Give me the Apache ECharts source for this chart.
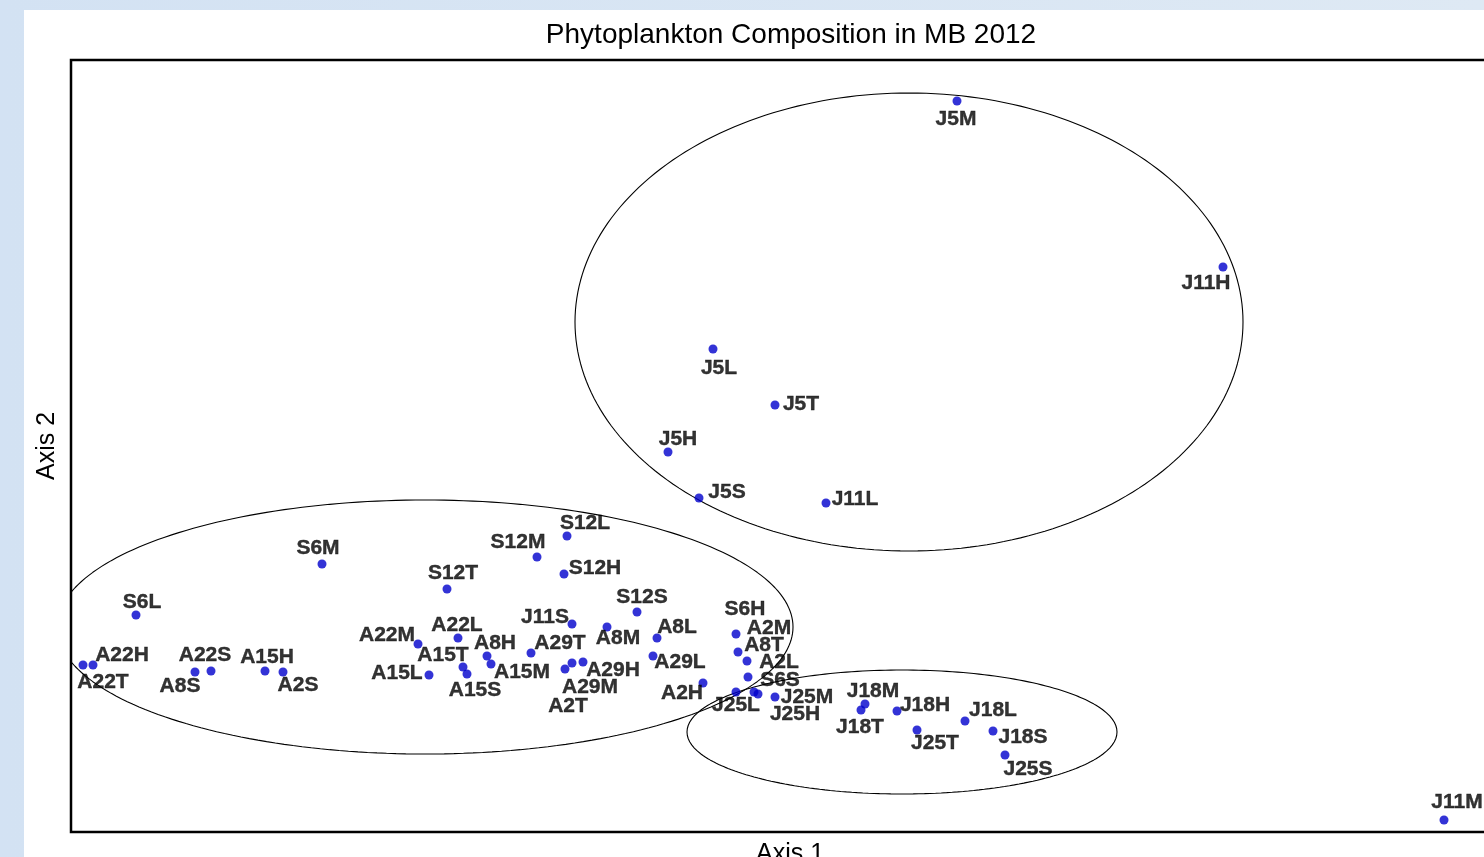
<!DOCTYPE html>
<html>
<head>
<meta charset="utf-8">
<script src="https://cdn.jsdelivr.net/npm/echarts@6/dist/echarts.min.js"></script>
<style>
html,body{margin:0;padding:0;background:#d6e4f4;overflow:hidden;}
#chart{width:1484px;height:857px;}
</style>
</head>
<body>
<div id="chart"></div>
<script>
// ---- data (ordination scores) ----
const sampleNames = ["S6L","A22T","A22H","A8S","A22S","A15H","A2S","S6M","S12T","S12M","S12L","S12H","S12S","J11S","A8M","A8L","A22M","A22L","A8H","A29T","A15T","A15S","A15M","A15L","A2T","A29M","A29H","A29L","A2H","S6H","A8T","A2L","S6S","J25L","A2M","J25H","J25M","J18M","J18T","J18H","J18L","J25T","J18S","J25S","J11M","J5L","J5T","J5H","J5S","J11L","J5M","J11H"];
const axis1Scores = [-6.54,-7.07,-6.97,-5.95,-5.79,-5.25,-5.07,-4.68,-3.43,-2.53,-2.23,-2.26,-1.53,-2.18,-1.83,-1.33,-3.72,-3.32,-3.03,-2.59,-3.27,-3.23,-2.99,-3.61,-2.25,-2.18,-2.07,-1.37,-0.87,-0.54,-0.52,-0.43,-0.42,-0.54,-0.36,-0.32,-0.15,0.75,0.71,1.07,1.75,1.27,2.03,2.15,6.54,-0.77,-0.15,-1.22,-0.91,0.36,1.67,4.33];
const axis2Scores = [-1.69,-2.19,-2.19,-2.26,-2.25,-2.25,-2.26,-1.18,-1.43,-1.11,-0.90,-1.28,-1.66,-1.78,-1.81,-1.92,-1.98,-1.92,-2.10,-2.07,-2.21,-2.28,-2.18,-2.29,-2.23,-2.17,-2.16,-2.10,-2.37,-1.88,-2.06,-2.15,-2.31,-2.46,-2.46,-2.48,-2.51,-2.58,-2.64,-2.65,-2.75,-2.84,-2.85,-3.09,-3.74,0.97,0.41,-0.06,-0.52,-0.57,3.45,1.79];

// group ellipses: centre and semi-axes in score units
const ellipseCentreX = [1.19, -3.65, 1.12];
const ellipseCentreY = [1.24, -1.81, -2.86];
const ellipseRadiusX = [3.34, 3.68, 2.15];
const ellipseRadiusY = [2.29, 1.27, 0.62];

// ---- layout: label offsets (px) from each point ----
const labelOffsets = [[6,-13],[20,17],[29,-10],[-15,14],[-6,-16],[2,-14],[15,13],[-4,-16],[6,-16],[-19,-15],[18,-13],[31,-6],[5,-15],[-27,-7],[11,11],[20,-11],[-31,-9],[-1,-13],[8,-13],[29,-10],[-20,-12],[8,16],[31,8],[-32,-2],[3,37],[18,24],[30,8],[27,6],[-21,10],[9,-25],[26,-7],[32,1],[32,3],[0,13],[15,-64],[37,20],[32,0],[8,-13],[-1,17],[28,-6],[28,-11],[18,13],[30,6],[23,14],[13,-18],[6,19],[26,-1],[10,-13],[28,-6],[29,-4],[-1,18],[-17,16]];

const FONT = "'Liberation Sans', Arial, sans-serif";

function ellipsePath(k){
  const pts = [];
  const n = 240;
  for (let i = 0; i <= n; i++){
    const t = 2*Math.PI*i/n;
    pts.push([ellipseCentreX[k] + ellipseRadiusX[k]*Math.cos(t), ellipseCentreY[k] + ellipseRadiusY[k]*Math.sin(t)]);
  }
  return pts;
}

const chart = echarts.init(document.getElementById('chart'), null, {renderer:'canvas'});
const ellipseSeries = ellipseCentreX.map((_, k) => ({
  type:'line', data: ellipsePath(k), showSymbol:false, symbol:'none', clip:false, silent:true,
  lineStyle:{color:'#000', width:1.1}, z:1, animation:false
}));

chart.setOption({
  animation:false,
  backgroundColor: new echarts.graphic.LinearGradient(0,0,1,0,[{offset:0,color:'#d3e2f3'},{offset:1,color:'#dee9f4'}]),
  graphic:[
    {type:'rect', z:-10, silent:true, shape:{x:24,y:10,width:1460,height:847}, style:{fill:'#ffffff'}},
    {type:'text', x:791, y:35, silent:true, style:{text:'Phytoplankton Composition in MB 2012', font:"28px 'Liberation Sans', Arial, sans-serif", fill:'#000', align:'center', verticalAlign:'middle'}}
  ],
  grid:{left:71, top:60, width:1438, height:772, show:true, borderColor:'#000', borderWidth:2.5, backgroundColor:'transparent', containLabel:false, outerBoundsMode:'none'},
  xAxis:{type:'value', min:-7.19, max:7.19, axisLine:{show:false}, axisTick:{show:false}, axisLabel:{show:false}, splitLine:{show:false},
    name:'Axis 1', nameLocation:'middle', nameGap:10, nameTextStyle:{fontFamily:FONT, fontSize:25, color:'#000'}},
  yAxis:{type:'value', min:-3.86, max:3.86, axisLine:{show:false}, axisTick:{show:false}, axisLabel:{show:false}, splitLine:{show:false},
    name:'Axis 2', nameLocation:'middle', nameGap:11, nameTextStyle:{fontFamily:FONT, fontSize:25, color:'#000'}},
  series:[
    ...ellipseSeries,
    {
      type:'scatter', symbol:'circle', symbolSize:9, z:3,
      itemStyle:{color:'#0000cc'},
      label:{show:true, position:'inside', formatter:'{b}', fontFamily:FONT, fontWeight:'bold', fontSize:21, color:'#000', textBorderColor:'#000', textBorderWidth:0.4},
      data: sampleNames.map((n,i) => ({name:n, value:[axis1Scores[i], axis2Scores[i]], label:{offset:labelOffsets[i]}}))
    }
  ]
});
</script>
</body>
</html>
